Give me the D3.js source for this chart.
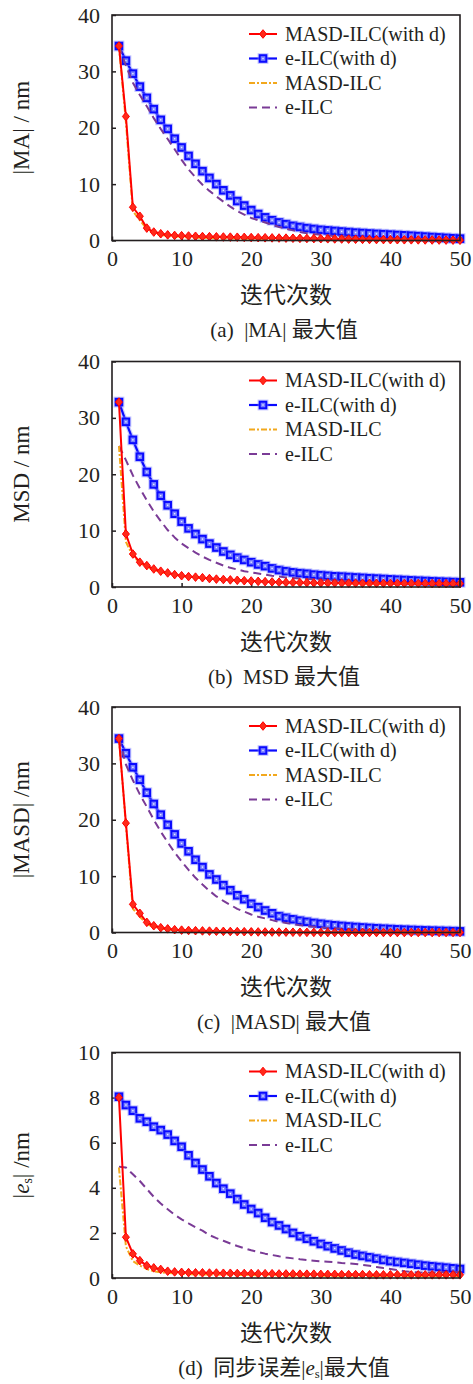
<!DOCTYPE html>
<html><head><meta charset="utf-8">
<script src="https://cdn.jsdelivr.net/npm/d3@7"></script>
<style>
html,body{margin:0;padding:0;background:#fff;}
svg{display:block;}
</style></head>
<body>
<svg id="chart" width="473" height="1384"></svg>
<script>
// ---------- DATA ----------
const iterations = d3.range(1, 51);
const seriesNames = ["MASD-ILC(with d)", "e-ILC(with d)", "MASD-ILC", "e-ILC"];
const xTicks = [0, 10, 20, 30, 40, 50];
const yTicksA = [0, 10, 20, 30, 40];
const yTicksD = [0, 2, 4, 6, 8, 10];

// (a) |MA|
const aRed = [34.5,22.0,5.9,4.3,2.2,1.5,1.2,1.0,0.9,0.85,0.8,0.75,0.7,0.68,0.65,0.62,0.6,0.58,0.55,0.52,0.5,0.48,0.46,0.44,0.42,0.4,0.38,0.36,0.34,0.32,0.3,0.28,0.26,0.24,0.22,0.2,0.18,0.17,0.16,0.15,0.14,0.13,0.12,0.11,0.1,0.09,0.08,0.07,0.06,0.05];
const aBlue = [34.5,31.9,29.6,27.3,25.3,23.3,21.4,19.8,18.05,16.5,15.0,13.6,12.3,11.1,10.0,8.9,8.0,7.0,6.2,5.4,4.7,4.1,3.6,3.2,2.9,2.6,2.4,2.2,2.05,1.9,1.8,1.7,1.6,1.5,1.4,1.33,1.25,1.18,1.12,1.05,0.98,0.92,0.85,0.78,0.7,0.62,0.55,0.47,0.4,0.33];
const aOrange = [34.5,21.0,5.2,3.6,2.0,1.3,1.0,0.8,0.7,0.62,0.56,0.5,0.46,0.43,0.4,0.38,0.36,0.34,0.32,0.3,0.29,0.28,0.27,0.26,0.25,0.24,0.23,0.22,0.21,0.2,0.19,0.18,0.18,0.17,0.17,0.16,0.16,0.15,0.15,0.14,0.14,0.13,0.13,0.12,0.12,0.11,0.11,0.1,0.1,0.1];
const aPurple = [34.5,31.0,28.0,25.8,23.8,21.7,19.8,18.0,16.2,14.3,12.6,11.2,9.9,8.8,7.8,6.9,6.0,5.2,4.6,4.0,3.6,3.2,2.8,2.4,2.1,1.8,1.5,1.3,1.15,1.0,0.9,0.8,0.72,0.65,0.58,0.52,0.47,0.43,0.39,0.36,0.33,0.3,0.28,0.26,0.24,0.22,0.2,0.18,0.17,0.15];

// (b) MSD
const bRed = [32.8,9.4,5.85,4.4,3.8,3.2,2.8,2.5,2.2,2.0,1.85,1.75,1.65,1.5,1.4,1.33,1.26,1.19,1.12,1.06,1.0,0.95,0.9,0.85,0.82,0.8,0.78,0.76,0.74,0.72,0.71,0.7,0.69,0.68,0.67,0.66,0.66,0.65,0.65,0.64,0.64,0.63,0.63,0.62,0.62,0.61,0.61,0.6,0.6,0.6];
const bBlue = [32.8,29.3,26.1,23.1,20.4,18.2,16.2,14.5,13.0,11.6,10.4,9.4,8.5,7.7,7.0,6.3,5.7,5.2,4.8,4.4,4.0,3.7,3.3,3.0,2.8,2.6,2.45,2.35,2.2,2.1,2.0,1.9,1.85,1.78,1.7,1.63,1.56,1.5,1.43,1.36,1.3,1.24,1.18,1.12,1.07,1.02,0.97,0.92,0.88,0.83];
const bOrange = [25.0,8.0,5.5,4.3,3.6,3.0,2.65,2.4,2.15,1.95,1.8,1.7,1.6,1.48,1.38,1.3,1.23,1.16,1.1,1.04,0.98,0.93,0.88,0.84,0.8,0.77,0.74,0.72,0.7,0.68,0.66,0.65,0.64,0.63,0.62,0.61,0.6,0.59,0.58,0.57,0.56,0.55,0.54,0.53,0.52,0.51,0.5,0.5,0.49,0.48];
const bPurple = [25.0,22.5,19.8,17.5,15.4,13.4,11.7,10.1,8.8,7.7,6.9,6.1,5.4,4.8,4.3,3.8,3.4,3.1,2.8,2.6,2.4,2.2,2.0,1.85,1.7,1.6,1.5,1.42,1.35,1.28,1.22,1.16,1.1,1.05,1.0,0.96,0.92,0.88,0.85,0.82,0.8,0.78,0.76,0.74,0.72,0.7,0.69,0.68,0.67,0.66];

// (c) |MASD|
const cRed = [34.4,19.4,5.0,3.4,1.8,1.2,0.85,0.65,0.5,0.42,0.36,0.32,0.28,0.25,0.22,0.2,0.18,0.16,0.14,0.12,0.1,0.09,0.08,0.07,0.06,0.05,0.04,0.03,0.02,0.01,0,0,0,0,0,0,0,0,0,0,0,0,0,0,0,0,0,0,0,0];
const cBlue = [34.4,31.8,29.3,27.1,24.8,22.8,20.9,19.1,17.4,15.8,14.4,12.9,11.6,10.3,9.4,8.4,7.5,6.6,5.9,5.1,4.5,3.9,3.4,2.9,2.6,2.35,2.1,1.9,1.7,1.55,1.4,1.28,1.17,1.07,0.98,0.9,0.82,0.75,0.68,0.62,0.56,0.51,0.46,0.42,0.38,0.34,0.3,0.27,0.24,0.2];
const cOrange = [34.4,19.0,4.2,2.8,1.5,1.0,0.7,0.5,0.4,0.33,0.28,0.24,0.21,0.18,0.16,0.14,0.12,0.11,0.1,0.09,0.08,0.07,0.07,0.06,0.06,0.05,0.05,0.05,0.05,0.04,0.04,0.04,0.04,0.04,0.03,0.03,0.03,0.03,0.03,0.03,0.03,0.02,0.02,0.02,0.02,0.02,0.02,0.02,0.02,0.02];
const cPurple = [34.4,29.8,27.0,24.5,22.3,20.0,17.9,16.0,14.2,12.6,11.1,9.7,8.5,7.4,6.4,5.6,4.9,4.2,3.7,3.2,2.8,2.5,2.2,1.9,1.7,1.5,1.3,1.15,1.0,0.9,0.82,0.75,0.68,0.62,0.56,0.51,0.47,0.43,0.4,0.37,0.34,0.31,0.29,0.27,0.25,0.23,0.21,0.2,0.19,0.18];

// (d) |e_s|
const dRed = [8.0,1.81,1.07,0.77,0.55,0.45,0.38,0.3,0.27,0.25,0.24,0.23,0.23,0.22,0.22,0.21,0.21,0.2,0.2,0.2,0.19,0.19,0.19,0.18,0.18,0.18,0.17,0.17,0.17,0.16,0.16,0.16,0.15,0.15,0.15,0.15,0.14,0.14,0.14,0.14,0.14,0.14,0.14,0.14,0.14,0.14,0.14,0.14,0.14,0.14];
const dBlue = [8.04,7.67,7.42,7.08,6.93,6.71,6.56,6.36,6.08,5.82,5.44,5.10,4.81,4.51,4.21,3.96,3.74,3.50,3.26,3.06,2.88,2.67,2.48,2.33,2.17,2.0,1.85,1.74,1.63,1.51,1.41,1.31,1.22,1.12,1.04,0.98,0.92,0.86,0.8,0.75,0.71,0.67,0.63,0.59,0.55,0.52,0.49,0.46,0.43,0.4];
const dOrange = [4.9,1.4,0.75,0.55,0.4,0.3,0.25,0.22,0.2,0.18,0.17,0.16,0.16,0.15,0.15,0.14,0.14,0.13,0.13,0.13,0.12,0.12,0.12,0.12,0.11,0.11,0.11,0.11,0.11,0.1,0.1,0.1,0.1,0.1,0.1,0.1,0.09,0.09,0.09,0.09,0.09,0.09,0.09,0.09,0.08,0.08,0.08,0.08,0.08,0.08];
const dPurple = [4.93,4.9,4.6,4.3,3.95,3.6,3.3,3.05,2.8,2.6,2.42,2.25,2.1,1.9,1.77,1.65,1.53,1.42,1.32,1.23,1.15,1.08,1.02,0.96,0.91,0.87,0.83,0.8,0.77,0.74,0.72,0.7,0.67,0.65,0.62,0.58,0.54,0.49,0.44,0.4,0.35,0.3,0.27,0.25,0.24,0.24,0.25,0.26,0.27,0.28];

// ---------- LAYOUT / STYLE ----------
const INK = "#231f20";
const SERIF = "'Liberation Serif','Times New Roman',serif";
const CJK = "'Noto Sans CJK SC','Liberation Serif',sans-serif";
const left = 112, right = 460, plotH = 225.5;
const tops = [15, 361.5, 707, 1052.5];

const panels = [
  {yMax: 40, yTicks: yTicksA, data: [aRed, aBlue, aOrange, aPurple], ylab: [{t:"|MA| / nm"}], cap: [{t:"(a)  |MA| "},{t:"最大值",cjk:true}]},
  {yMax: 40, yTicks: yTicksA, data: [bRed, bBlue, bOrange, bPurple], ylab: [{t:"MSD / nm"}], cap: [{t:"(b)  MSD "},{t:"最大值",cjk:true}]},
  {yMax: 40, yTicks: yTicksA, data: [cRed, cBlue, cOrange, cPurple], ylab: [{t:"|MASD| /nm"}], cap: [{t:"(c)  |MASD| "},{t:"最大值",cjk:true}]},
  {yMax: 10, yTicks: yTicksD, data: [dRed, dBlue, dOrange, dPurple], ylab: [{t:"|"},{t:"e",it:true},{t:"s",sub:true},{t:"| /nm"}], cap: [{t:"(d)  "},{t:"同步误差",cjk:true},{t:"|"},{t:"e",it:true},{t:"s",sub:true},{t:"|"},{t:"最大值",cjk:true}]}
];

const styles = [
  {color:"#ff0000", width:2, dash:null, marker:"diamond"},
  {color:"#0a0aff", width:2.2, dash:null, marker:"square"},
  {color:"#f2a81d", width:2, dash:"6,2,2,2", marker:null},
  {color:"#7a3b96", width:2, dash:"8,5", marker:null}
];
const drawOrder = [1, 3, 2, 0];

const svg = d3.select("#chart");

function addRuns(textSel, runs, size) {
  runs.forEach((r, i) => {
    const ts = textSel.append("tspan").text(r.t);
    if (r.cjk) ts.attr("font-family", CJK).attr("font-size", size + 1);
    if (r.it) ts.attr("font-style", "italic");
    if (r.sub) ts.attr("font-size", size * 0.6).attr("dy", "0.25em");
    if (i > 0 && runs[i-1].sub) ts.attr("dy", (0.25 * size * 0.6 * -1) + "px");
  });
}

function drawMarker(sel, type, color, cx, cy) {
  if (type === "diamond") {
    sel.append("path")
      .attr("d", `M${cx},${cy-4.3}L${cx+3.5},${cy}L${cx},${cy+4.3}L${cx-3.5},${cy}Z`)
      .attr("fill", "#ff2a1a").attr("stroke", color).attr("stroke-width", 1);
  } else if (type === "square") {
    sel.append("rect").attr("x", cx-4.6).attr("y", cy-4.6).attr("width", 9.2).attr("height", 9.2)
      .attr("fill", "none").attr("stroke", "#8c90ff").attr("stroke-opacity", 0.5).attr("stroke-width", 1.6);
    sel.append("rect").attr("x", cx-3.3).attr("y", cy-3.3).attr("width", 6.6).attr("height", 6.6)
      .attr("fill", "#7880ff").attr("stroke", color).attr("stroke-width", 2);
    sel.append("rect").attr("x", cx-0.7).attr("y", cy-0.7).attr("width", 1.4).attr("height", 1.4)
      .attr("fill", "#e8eaff");
  }
}

panels.forEach((p, pi) => {
  const g = svg.append("g").attr("transform", `translate(0,${tops[pi]})`);
  const x = d3.scaleLinear().domain([0, 50]).range([left, right]);
  const y = d3.scaleLinear().domain([0, p.yMax]).range([plotH, 0]);

  // axes
  const xa = g.append("g").attr("transform", `translate(0,${plotH})`)
    .call(d3.axisBottom(x).tickValues(xTicks).tickSizeInner(-4).tickSizeOuter(0).tickPadding(10));
  const ya = g.append("g").attr("transform", `translate(${left},0)`)
    .call(d3.axisLeft(y).tickValues(p.yTicks).tickSizeInner(-4).tickSizeOuter(0).tickPadding(12));
  [xa, ya].forEach(a => {
    a.select(".domain").remove();
    a.selectAll("line").attr("stroke", INK).attr("stroke-width", 1.5);
    a.selectAll("text").attr("font-family", SERIF).attr("font-size", 22).attr("fill", INK);
  });

  // series
  const line = d3.line().x((d, i) => x(iterations[i])).y(d => y(d));
  drawOrder.forEach(si => {
    const s = styles[si], vals = p.data[si];
    if (si === 1) {
      g.append("path").attr("d", line(vals)).attr("fill", "none")
        .attr("stroke", "#8c90ff").attr("stroke-opacity", 0.45).attr("stroke-width", 4.5);
    }
    const path = g.append("path").attr("d", line(vals)).attr("fill", "none")
      .attr("stroke", s.color).attr("stroke-width", s.width).attr("stroke-linejoin", "round");
    if (s.dash) path.attr("stroke-dasharray", s.dash);
    if (s.marker) {
      const mg = g.append("g");
      vals.forEach((v, i) => drawMarker(mg, s.marker, s.color, x(iterations[i]), y(v)));
    }
  });

  // frame
  g.append("rect").attr("x", left).attr("y", 0).attr("width", right - left).attr("height", plotH)
    .attr("fill", "none").attr("stroke", INK).attr("stroke-width", 1.6);

  // legend
  const rowY = [19, 43.5, 68, 92.5];
  seriesNames.forEach((name, si) => {
    const s = styles[si], ly = rowY[si];
    const l = g.append("line").attr("x1", 249).attr("x2", 277).attr("y1", ly).attr("y2", ly)
      .attr("stroke", s.color).attr("stroke-width", s.width);
    if (s.dash) l.attr("stroke-dasharray", s.dash);
    if (s.marker) drawMarker(g, s.marker, s.color, 263, ly);
    g.append("text").attr("x", 285).attr("y", ly).attr("dy", "0.34em")
      .attr("font-family", SERIF).attr("font-size", 20).attr("fill", INK).text(name);
  });

  // y label
  const yl = g.append("text").attr("transform", `translate(29,${plotH/2}) rotate(-90)`)
    .attr("text-anchor", "middle").attr("font-family", SERIF).attr("font-size", 23).attr("fill", INK)
    .attr("xml:space", "preserve");
  addRuns(yl, p.ylab, 23);

  // x label
  g.append("text").attr("x", (left + right) / 2).attr("y", 288).attr("text-anchor", "middle")
    .attr("font-family", CJK).attr("font-size", 23).attr("fill", INK).text("迭代次数");

  // caption
  const cap = g.append("text").attr("x", (left + right) / 2 - 2).attr("y", 322).attr("text-anchor", "middle")
    .attr("font-family", SERIF).attr("font-size", 21).attr("fill", INK).attr("xml:space", "preserve");
  addRuns(cap, p.cap, 21);
});
</script>
</body></html>
